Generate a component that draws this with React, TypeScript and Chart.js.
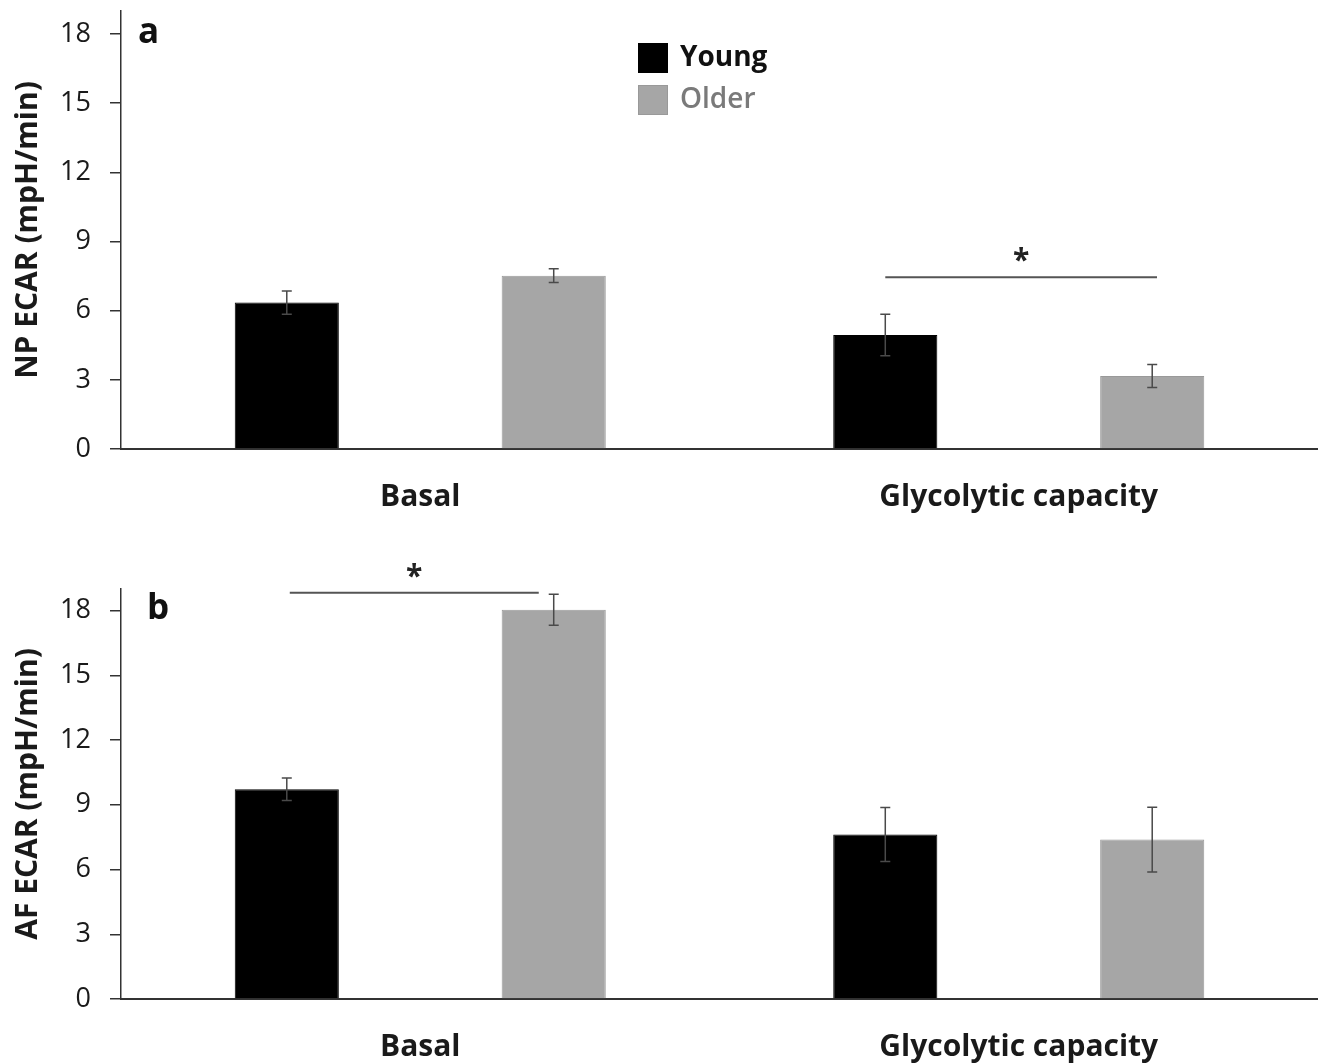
import React, { useEffect, useRef } from "react";
import { Chart, registerables } from "chart.js";
Chart.register(...registerables);

const categories = ["Basal", "Glycolytic capacity"];
const seriesNames = ["Young", "Older"];
const seriesColors = ["#000000", "#a6a6a6"];
const seriesBorders = ["#000000", "#999999"];
const legendTextColors = ["#111111", "#7a7a7a"];

const npYoung = [6.35, 4.94];
const npOlder = [7.52, 3.17];
const npYoungErr = [0.5, 0.9];
const npOlderErr = [0.3, 0.5];

const afYoung = [9.72, 7.62];
const afOlder = [18.04, 7.39];
const afYoungErr = [0.52, 1.25];
const afOlderErr = [0.72, 1.5];

const yTicks = [0, 3, 6, 9, 12, 15, 18];
const yMax = 19;

// significance bar: [from (category units), to (category units), line value, star value]
const npSig = [0.777, 1.231, 7.45, 8.37];
const afSig = [-0.218, 0.198, 18.83, 19.77];

const FONT = "'Open Sans'";
const W = 1318;

type PanelCfg = {
  top: number;
  height: number;
  chartTop: number;
  chartBottom: number;
  title: string;
  letter: string;
  letterPos: [number, number];
  young: number[];
  older: number[];
  youngErr: number[];
  olderErr: number[];
  sig: number[];
  legend: boolean;
  xPad: number;
};

const panels: PanelCfg[] = [
  {
    top: 0,
    height: 530,
    chartTop: 11,
    chartBottom: 449,
    title: "NP ECAR (mpH/min)",
    letter: "a",
    letterPos: [138, 43],
    young: npYoung,
    older: npOlder,
    youngErr: npYoungErr,
    olderErr: npOlderErr,
    sig: npSig,
    legend: true,
    xPad: 30,
  },
  {
    top: 530,
    height: 534,
    chartTop: 59,
    chartBottom: 469,
    title: "AF ECAR (mpH/min)",
    letter: "b",
    letterPos: [147, 89],
    young: afYoung,
    older: afOlder,
    youngErr: afYoungErr,
    olderErr: afOlderErr,
    sig: afSig,
    legend: false,
    xPad: 30,
  },
];

const errorBarPlugin = {
  id: "errorBars",
  afterDatasetsDraw(chart: any) {
    const ctx = chart.ctx;
    const y = chart.scales.y;
    chart.data.datasets.forEach((ds: any, i: number) => {
      const meta = chart.getDatasetMeta(i);
      meta.data.forEach((bar: any, j: number) => {
        const v = ds.data[j];
        const e = ds.errors[j];
        const yt = y.getPixelForValue(v + e);
        const yb = y.getPixelForValue(v - e);
        ctx.save();
        ctx.strokeStyle = "#4a4a4a";
        ctx.lineWidth = 1.5;
        ctx.beginPath();
        ctx.moveTo(bar.x, yt);
        ctx.lineTo(bar.x, yb);
        ctx.moveTo(bar.x - 5, yt);
        ctx.lineTo(bar.x + 5, yt);
        ctx.moveTo(bar.x - 5, yb);
        ctx.lineTo(bar.x + 5, yb);
        ctx.stroke();
        ctx.restore();
      });
    });
  },
};

const annotationPlugin = {
  id: "annot",
  afterDraw(chart: any) {
    const cfg: PanelCfg = chart.options.plugins.annot.cfg;
    const ctx = chart.ctx;
    const x = chart.scales.x;
    const y = chart.scales.y;
    ctx.save();
    const [a, b, lv, sv] = cfg.sig;
    const x1 = x.getPixelForValue(a);
    const x2 = x.getPixelForValue(b);
    const ly = y.getPixelForValue(lv);
    ctx.strokeStyle = "#555555";
    ctx.lineWidth = 2;
    ctx.beginPath();
    ctx.moveTo(x1, ly);
    ctx.lineTo(x2, ly);
    ctx.stroke();
    ctx.fillStyle = "#222222";
    ctx.font = `bold 30px ${FONT}`;
    ctx.textAlign = "center";
    ctx.textBaseline = "middle";
    ctx.fillText("*", (x1 + x2) / 2, y.getPixelForValue(sv) + 5);
    ctx.font = `bold 35px ${FONT}`;
    ctx.textAlign = "left";
    ctx.textBaseline = "alphabetic";
    ctx.fillStyle = "#111111";
    ctx.fillText(cfg.letter, cfg.letterPos[0], cfg.letterPos[1]);
    if (cfg.legend) {
      chart.data.datasets.forEach((ds: any, i: number) => {
        const top = 43 + i * 42;
        ctx.fillStyle = ds.backgroundColor;
        ctx.fillRect(638, top, 30, 30);
        ctx.strokeStyle = ds.borderColor;
        ctx.lineWidth = 1;
        ctx.strokeRect(638.5, top + 0.5, 29, 29);
        ctx.fillStyle = legendTextColors[i];
        ctx.font = `${i === 0 ? "bold" : "600"} 28px ${FONT}`;
        ctx.textBaseline = "middle";
        ctx.fillText(ds.label, 680, top + 15);
      });
    }
    ctx.restore();
  },
};

function Panel({ cfg }: { cfg: PanelCfg }) {
  const ref = useRef<HTMLCanvasElement>(null);
  useEffect(() => {
    if (!ref.current) return;
    const chart = new Chart(ref.current, {
      type: "bar",
      data: {
        labels: categories,
        datasets: [
          {
            label: seriesNames[0],
            data: cfg.young,
            errors: cfg.youngErr,
            backgroundColor: seriesColors[0],
            borderColor: seriesBorders[0],
            borderWidth: 1,
            categoryPercentage: 0.892,
            barPercentage: 0.39,
          } as any,
          {
            label: seriesNames[1],
            data: cfg.older,
            errors: cfg.olderErr,
            backgroundColor: seriesColors[1],
            borderColor: seriesBorders[1],
            borderWidth: 1,
            categoryPercentage: 0.892,
            barPercentage: 0.39,
          } as any,
        ],
      },
      options: {
        animation: false,
        responsive: false,
        maintainAspectRatio: false,
        layout: { padding: { top: cfg.chartTop, left: 0, right: 0, bottom: 0 } },
        plugins: {
          legend: { display: false },
          tooltip: { enabled: false },
          annot: { cfg },
        } as any,
        scales: {
          x: {
            afterFit: (s: any) => {
              s.height = cfg.height - cfg.chartBottom;
              s.paddingLeft = 0;
              s.paddingRight = 0;
            },
            grid: { display: false, drawTicks: false },
            border: { display: true, color: "#333333", width: 2 },
            ticks: {
              padding: cfg.xPad,
              color: "#1a1a1a",
              font: { family: FONT, size: 30, weight: "bold" },
            },
          },
          y: {
            min: 0,
            max: yMax,
            afterFit: (s: any) => {
              s.width = 121;
              s.paddingTop = 0;
              s.paddingBottom = 0;
            },
            afterBuildTicks: (s: any) => {
              s.ticks = yTicks.map((v) => ({ value: v }));
            },
            grid: {
              drawOnChartArea: false,
              drawTicks: true,
              tickLength: 11,
              color: "#333333",
              lineWidth: 1.5,
            },
            border: { display: true, color: "#333333", width: 1.5 },
            ticks: {
              padding: 19,
              color: "#1a1a1a",
              font: { family: FONT, size: 27 },
            },
            title: {
              display: true,
              text: cfg.title,
              color: "#1a1a1a",
              font: { family: FONT, size: 30, weight: "bold" },
              padding: { top: 10, bottom: 0 },
            },
          },
        },
      },
      plugins: [errorBarPlugin, annotationPlugin],
    });
    return () => chart.destroy();
  }, [cfg]);
  return (
    <canvas
      ref={ref}
      width={W}
      height={cfg.height}
      style={{ position: "absolute", left: 0, top: cfg.top, width: W, height: cfg.height }}
    />
  );
}

export default function App() {
  return (
    <div style={{ position: "absolute", left: 0, top: 0, width: W, height: 1064, background: "#ffffff" }}>
      {panels.map((p, i) => (
        <Panel key={i} cfg={p} />
      ))}
    </div>
  );
}
